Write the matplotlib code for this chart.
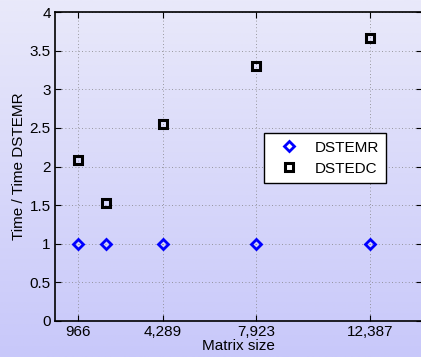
import matplotlib
matplotlib.use('Agg')
import matplotlib.pyplot as plt
import numpy as np

plt.rcParams['font.family'] = ['Liberation Sans', 'DejaVu Sans']

# matrix sizes and run times relative to DSTEMR
sizes = [966, 2070, 4289, 7923, 12387]
dstemr = [1.0, 1.0, 1.0, 1.0, 1.0]
dstedc = [2.08, 1.53, 2.55, 3.30, 3.66]
xtick_vals = [966, 4289, 7923, 12387]
ytick_vals = [0, 0.5, 1, 1.5, 2, 2.5, 3, 3.5, 4]

fig = plt.figure(figsize=(4.21, 3.57), dpi=100)

# lavender gradient behind everything
bg = fig.add_axes([0, 0, 1, 1], zorder=-10)
top = np.array([233, 233, 250]) / 255
bottom = np.array([200, 200, 250]) / 255
t = np.linspace(0, 1, 256)[:, None]
grad = top * (1 - t) + bottom * t
bg.imshow(grad[:, None, :], aspect='auto', extent=[0, 1, 0, 1])
bg.axis('off')

ax = fig.add_axes([55 / 421, 36 / 357, 366.5 / 421, 309 / 357])
ax.patch.set_alpha(0)

ax.plot(sizes, dstemr, linestyle='none', marker='D', markersize=5.4,
        markerfacecolor='none', markeredgecolor='#0000ff', markeredgewidth=2,
        label='DSTEMR')
ax.plot(sizes, dstedc, linestyle='none', marker='s', markersize=5.2,
        markerfacecolor='none', markeredgecolor='black', markeredgewidth=2.2,
        label='DSTEDC')

ax.set_xlim(60, 14400)
ax.set_ylim(0, 4)
ax.set_xticks(xtick_vals)
ax.set_xticklabels([f'{v:,}' for v in xtick_vals])
ax.set_yticks(ytick_vals)
ax.set_yticklabels([f'{v:g}' for v in ytick_vals])
ax.tick_params(direction='in', top=True, right=True, labelsize=11,
               length=4, width=0.8, pad=3)
ax.grid(True, linestyle=(0, (1, 3)), color='#808080', linewidth=0.6)
for s in ax.spines.values():
    s.set_linewidth(1.2)

ax.set_xlabel('Matrix size', fontsize=11, labelpad=0)
ax.set_ylabel('Time / Time DSTEMR', fontsize=11, labelpad=3)

leg = ax.legend(loc='upper left', bbox_to_anchor=(0.57, 0.608),
                borderaxespad=0, fontsize=11, frameon=True, fancybox=False,
                edgecolor='black', framealpha=1, handletextpad=0.5,
                handlelength=2.3, borderpad=0.5, labelspacing=0.45,
                numpoints=1)
leg.get_frame().set_linewidth(1.0)

fig.savefig('out.png', dpi=100)
